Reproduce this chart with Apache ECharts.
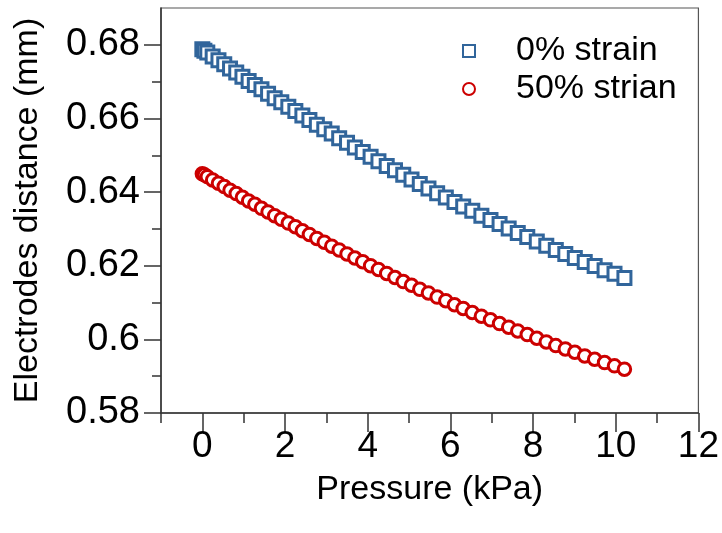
<!DOCTYPE html>
<html>
<head>
<meta charset="utf-8">
<script src="https://cdn.jsdelivr.net/npm/echarts@6/dist/echarts.min.js"></script>
<style>
html,body{margin:0;padding:0;background:#fff;}
#chart{width:722px;height:533px;}
</style>
</head>
<body>
<div id="chart"></div>
<script>
// Pressure (kPa)
var pressure = [0, 0.05, 0.12, 0.25, 0.39, 0.53, 0.67, 0.82, 0.97, 1.12, 1.27, 1.43, 1.59, 1.75, 1.91, 2.08, 2.25, 2.42, 2.59, 2.77, 2.95, 3.13, 3.31, 3.5, 3.69, 3.88, 4.07, 4.26, 4.46, 4.66, 4.86, 5.06, 5.26, 5.47, 5.68, 5.89, 6.1, 6.31, 6.53, 6.75, 6.97, 7.19, 7.41, 7.63, 7.86, 8.09, 8.32, 8.55, 8.78, 9.01, 9.25, 9.49, 9.73, 9.97, 10.21];
// Electrodes distance (mm), 0% strain
var strain0 = [0.6788, 0.6784, 0.6779, 0.6768, 0.6758, 0.6747, 0.6736, 0.6725, 0.6713, 0.6702, 0.6691, 0.6679, 0.6667, 0.6655, 0.6644, 0.6632, 0.6620, 0.6608, 0.6596, 0.6583, 0.6571, 0.6559, 0.6546, 0.6534, 0.6521, 0.6509, 0.6496, 0.6484, 0.6471, 0.6459, 0.6447, 0.6434, 0.6422, 0.6410, 0.6397, 0.6385, 0.6373, 0.6361, 0.6349, 0.6336, 0.6324, 0.6313, 0.6301, 0.6289, 0.6278, 0.6266, 0.6254, 0.6243, 0.6232, 0.6221, 0.6210, 0.6199, 0.6188, 0.6178, 0.6167];
// Electrodes distance (mm), 50% strain
var strain50 = [0.6450, 0.6447, 0.6442, 0.6433, 0.6424, 0.6415, 0.6405, 0.6396, 0.6386, 0.6376, 0.6367, 0.6356, 0.6346, 0.6336, 0.6326, 0.6316, 0.6306, 0.6295, 0.6285, 0.6274, 0.6264, 0.6253, 0.6243, 0.6232, 0.6221, 0.6211, 0.6200, 0.6190, 0.6179, 0.6168, 0.6157, 0.6147, 0.6136, 0.6126, 0.6115, 0.6105, 0.6094, 0.6084, 0.6073, 0.6063, 0.6053, 0.6043, 0.6033, 0.6023, 0.6013, 0.6003, 0.5993, 0.5983, 0.5974, 0.5965, 0.5955, 0.5946, 0.5937, 0.5928, 0.5919];

var seriesNames = ['0% strain', '50% strian'];
var xMajorTicks = [0, 2, 4, 6, 8, 10, 12];
var xMinorTicks = [-1, 1, 3, 5, 7, 9, 11];
var yMajorTicks = [0.58, 0.6, 0.62, 0.64, 0.66, 0.68];
var yMinorTicks = [0.59, 0.61, 0.63, 0.65, 0.67];

function pairs(xs, ys) {
  return xs.map(function (x, i) { return [x, ys[i]]; });
}

var FONT = '"Liberation Sans", Arial, sans-serif';
var AX = '#333';
var BLUE = '#31659b';
var RED = '#cc0000';

var chart = echarts.init(document.getElementById('chart'), null, {renderer: 'canvas'});
chart.setOption({
  animation: false,
  backgroundColor: '#fff',
  textStyle: {fontFamily: FONT},
  grid: {left: 161, right: 23, top: 8, bottom: 120, show: true, borderColor: '#555', borderWidth: 1.2, containLabel: false},
  legend: {
    orient: 'vertical', left: 457, top: 29,
    itemWidth: 12, itemHeight: 12, itemGap: 4,
    data: seriesNames,
    textStyle: {fontSize: 34, color: '#000', fontFamily: FONT, padding: [0, 0, 0, 36]}
  },
  xAxis: [{
    type: 'value', min: -1, max: 12, interval: 1,
    axisLine: {onZero: false, lineStyle: {color: AX, width: 1.5}},
    axisTick: {customValues: xMinorTicks, length: 10, lineStyle: {color: AX, width: 1.5}},
    axisLabel: {customValues: xMajorTicks, fontSize: 37, color: '#000', fontFamily: FONT, margin: 15},
    splitLine: {show: false},
    name: 'Pressure (kPa)', nameLocation: 'middle', nameGap: 60,
    nameTextStyle: {fontSize: 34, color: '#000', fontFamily: FONT}
  }, {
    type: 'value', min: -1, max: 12, interval: 1, position: 'bottom',
    axisLine: {show: false, onZero: false},
    axisTick: {customValues: xMajorTicks, length: 19, lineStyle: {color: AX, width: 1.5}},
    axisLabel: {show: false},
    splitLine: {show: false}
  }],
  yAxis: [{
    type: 'value', min: 0.58, max: 0.69, interval: 0.01,
    axisLine: {onZero: false, lineStyle: {color: AX, width: 1.5}},
    axisTick: {customValues: yMajorTicks, length: 17, lineStyle: {color: AX, width: 1.5}},
    axisLabel: {customValues: yMajorTicks, fontSize: 38, color: '#000', fontFamily: FONT, margin: 21,
      formatter: function (v) { return String(+(+v).toFixed(2)); }},
    splitLine: {show: false},
    name: 'Electrodes distance (mm)', nameLocation: 'middle', nameGap: 116,
    nameTextStyle: {fontSize: 34, color: '#000', fontFamily: FONT}
  }, {
    type: 'value', min: 0.58, max: 0.69, interval: 0.01, position: 'left',
    axisLine: {show: false, onZero: false},
    axisTick: {customValues: yMinorTicks, length: 9, lineStyle: {color: AX, width: 1.5}},
    axisLabel: {show: false},
    splitLine: {show: false}
  }],
  series: [{
    name: seriesNames[0], type: 'scatter', symbol: 'rect', symbolSize: 13,
    itemStyle: {color: '#fff', borderColor: BLUE, borderWidth: 3, opacity: 1},
    data: pairs(pressure, strain0)
  }, {
    name: seriesNames[1], type: 'scatter', symbol: 'circle', symbolSize: 12.5,
    itemStyle: {color: '#fff', borderColor: RED, borderWidth: 3, opacity: 1},
    data: pairs(pressure, strain50)
  }]
});
</script>
</body>
</html>
